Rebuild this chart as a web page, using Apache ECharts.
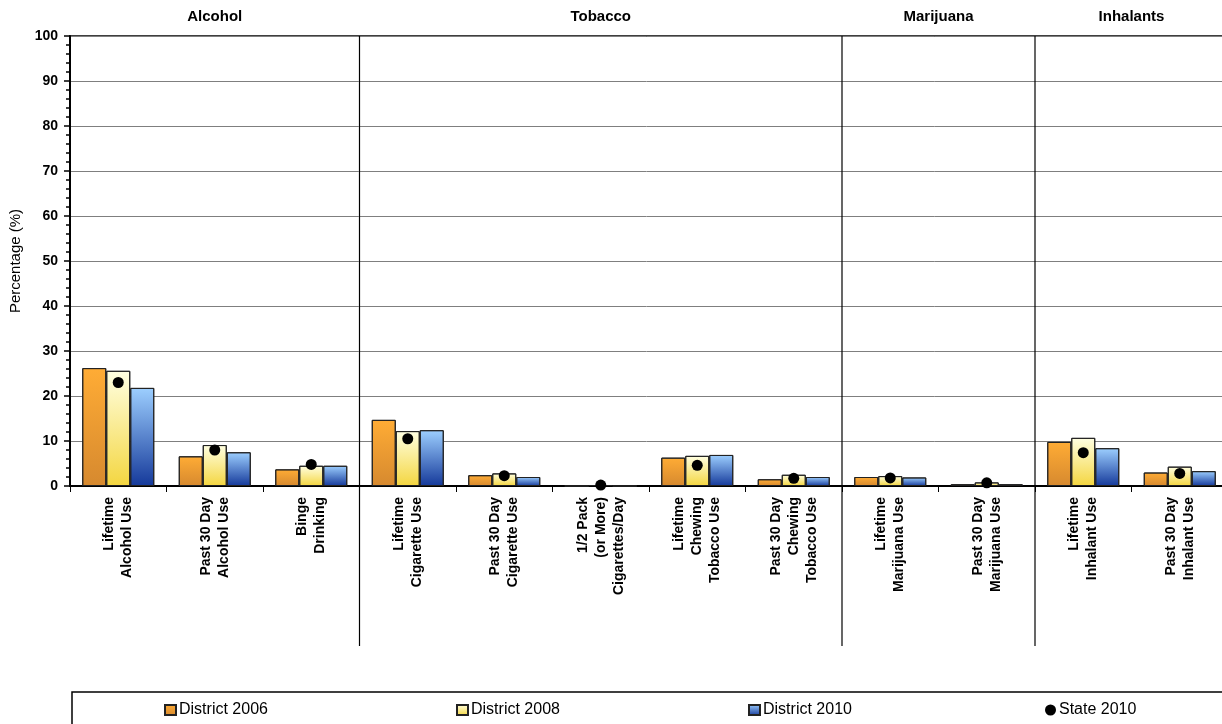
<!DOCTYPE html>
<html><head><meta charset="utf-8">
<script src="https://cdn.jsdelivr.net/npm/echarts@6/dist/echarts.min.js"></script>
<style>html,body{margin:0;padding:0;background:#fff}#c{width:1222px;height:724px}</style>
</head><body><div id="c"></div>
<script>
const categories = ['Lifetime\nAlcohol Use','Past 30 Day\nAlcohol Use','Binge\nDrinking','Lifetime\nCigarette Use','Past 30 Day\nCigarette Use','1/2 Pack\n(or More)\nCigarettes/Day','Lifetime\nChewing\nTobacco Use','Past 30 Day\nChewing\nTobacco Use','Lifetime\nMarijuana Use','Past 30 Day\nMarijuana Use','Lifetime\nInhalant Use','Past 30 Day\nInhalant Use'];
const groupNames = ['Alcohol','Tobacco','Marijuana','Inhalants'];
const groupSizes = [3,5,2,2];
const district2006 = [26.2,6.6,3.7,14.7,2.4,0,6.3,1.5,2.0,0.4,9.8,3.0];
const district2008 = [25.6,9.1,4.5,12.2,2.8,0.2,6.7,2.5,2.2,0.8,10.7,4.3];
const district2010 = [21.8,7.5,4.5,12.4,2.0,0,6.9,2.0,1.9,0.4,8.4,3.3];
const state2010 = [23.0,8.0,4.8,10.5,2.3,0.2,4.6,1.7,1.8,0.7,7.4,2.8];
const yTicks = [0,10,20,30,40,50,60,70,80,90,100];

const grad = (a,b)=>new echarts.graphic.LinearGradient(0,0,0,1,[{offset:0,color:a},{offset:1,color:b}]);
const chart = echarts.init(document.getElementById('c'));
const font = 'Arial, "Liberation Sans", sans-serif';
const barStyle = (a,b)=>({color:grad(a,b),borderColor:'#222',borderWidth:1});
const legendBase = {top:702,padding:0,itemWidth:11,itemHeight:10,itemGap:10,icon:'rect',textStyle:{fontFamily:font,fontSize:16,color:'#000',padding:[0,0,0,-2]},selectedMode:false};
chart.setOption({
  animation:false,
  grid:{left:70,top:36,bottom:238,width:1158,containLabel:false,outerBoundsMode:'none',show:true,borderColor:'#000',borderWidth:1.5,backgroundColor:'transparent'},
  legend:[
    Object.assign({},legendBase,{left:164,data:['District 2006']}),
    Object.assign({},legendBase,{left:456,data:['District 2008']}),
    Object.assign({},legendBase,{left:748,data:['District 2010']}),
    Object.assign({},legendBase,{left:1045,data:[{name:'State 2010',icon:'circle'}],itemWidth:11,itemHeight:11})
  ],
  xAxis:{type:'category',data:categories,
    axisLine:{lineStyle:{color:'#000',width:2}},
    axisTick:{show:true,length:6,lineStyle:{color:'#000',width:1}},
    axisLabel:{interval:0,rotate:90,margin:11,fontFamily:font,fontSize:14,fontWeight:'bold',color:'#000',lineHeight:18}
  },
  yAxis:{type:'value',min:yTicks[0],max:yTicks[yTicks.length-1],interval:10,
    name:'Percentage (%)',nameLocation:'middle',nameGap:44,nameTextStyle:{fontFamily:font,fontSize:15,color:'#000'},
    axisLine:{show:true,lineStyle:{color:'#000',width:2}},
    axisTick:{show:true,length:6,lineStyle:{color:'#000',width:1.5}},
    minorTick:{show:true,splitNumber:5,length:4,lineStyle:{color:'#000',width:1.5}},
    splitLine:{lineStyle:{color:'#7f7f7f',width:1}},
    axisLabel:{fontFamily:font,fontSize:14,fontWeight:'bold',color:'#000',margin:12}
  },
  series:[
    {name:'District 2006',type:'bar',data:district2006,barWidth:24,barGap:'0%',itemStyle:barStyle('#ffac35','#d6892f')},
    {name:'District 2008',type:'bar',data:district2008,barWidth:24,barGap:'0%',itemStyle:barStyle('#ffffe2','#f4d640')},
    {name:'District 2010',type:'bar',data:district2010,barWidth:24,barGap:'0%',itemStyle:barStyle('#9dcfff','#15399a')},
    {name:'State 2010',type:'scatter',data:state2010,symbol:'circle',symbolSize:11,itemStyle:{color:'#000',opacity:1},z:5}
  ]
});

const c0 = chart.convertToPixel({xAxisIndex:0}, categories[0]);
const c1 = chart.convertToPixel({xAxisIndex:0}, categories[1]);
const stepW = c1 - c0;
const leftEdge = c0 - stepW/2;
const topY = chart.convertToPixel({yAxisIndex:0}, 100);
const graphics = [];
let start = 0;
groupNames.forEach((g,k)=>{
  const end = start + groupSizes[k];
  const x0 = leftEdge + stepW*start, x1 = leftEdge + stepW*end;
  graphics.push({type:'text',x:(x0+x1)/2,y:topY-19,style:{text:g,font:'bold 15px '+font,fill:'#000',align:'center',verticalAlign:'middle'}});
  if (k>0){
    graphics.push({type:'line',shape:{x1:x0,y1:topY,x2:x0,y2:646},style:{stroke:'#000',lineWidth:1.2},z:10});
  }
  start = end;
});
graphics.push({type:'rect',shape:{x:72,y:692,width:1160,height:40},style:{fill:'none',stroke:'#000',lineWidth:1.5},z:-1});
chart.setOption({graphic:graphics});
</script></body></html>
